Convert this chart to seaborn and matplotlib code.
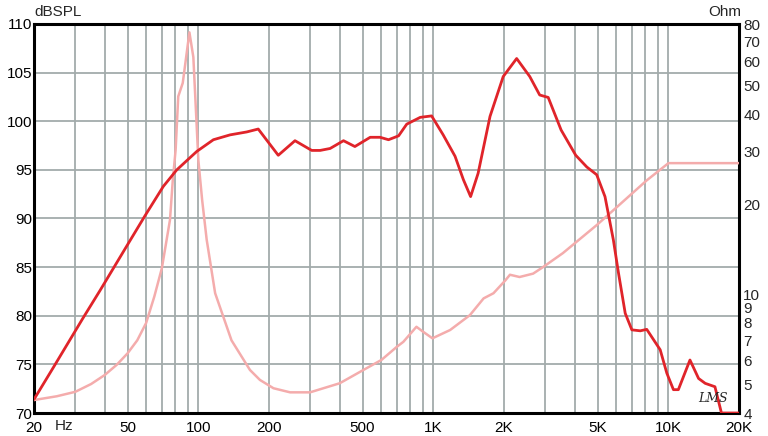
import matplotlib
matplotlib.use('Agg')
import matplotlib.pyplot as plt
from matplotlib.ticker import FixedLocator, NullLocator, FixedFormatter
import seaborn as sns
import pandas as pd

sns.set_style('white')
plt.rcParams['font.family'] = ['Liberation Sans', 'DejaVu Sans']

# SPL response (dB)
spl_freq = [20, 24.2, 32.4, 38.2, 50, 59.4, 71, 81, 98.6, 116, 136.6, 160.8, 180,
            219, 258, 304, 330, 364, 415, 464, 539, 594, 645, 712, 771, 880, 984,
            1102, 1238, 1343, 1442, 1552, 1744, 1985, 2264, 2574, 2837, 3084, 3500,
            4040, 4500, 4960, 5380, 5840, 6140, 6560, 7000, 7600, 8100, 9240, 9860,
            10520, 11040, 12370, 13460, 14360, 15800, 16840, 20000]
spl_db = [71.4, 74.7, 79.8, 82.6, 87.3, 90.3, 93.3, 95.0, 96.9, 98.1, 98.6, 98.9, 99.2,
          96.5, 98.0, 97.0, 97.0, 97.2, 98.0, 97.4, 98.35, 98.35, 98.1, 98.5, 99.7, 100.4, 100.55,
          98.6, 96.4, 94.0, 92.25, 94.65, 100.5, 104.6, 106.45, 104.6, 102.7, 102.45, 99.1,
          96.5, 95.3, 94.5, 92.25, 87.8, 84.4, 80.25, 78.55, 78.45, 78.6, 76.5, 74.1,
          72.4, 72.4, 75.45, 73.55, 73.05, 72.7, 70.0, 70.0]

# impedance (Ohm)
imp_freq = [20, 25, 30, 35, 40, 45, 50, 55, 60, 65, 70, 75.8, 77.9, 80.1, 82.2, 85.9,
            91.7, 95.3, 100.1, 103.9, 108.6, 118, 138.5, 166, 183, 209, 246, 299,
            400, 504, 602, 700, 746, 848, 905, 992, 1180, 1432, 1638, 1804, 2025, 2120,
            2330, 2660, 2930, 3560, 4960, 8100, 10020, 20000]
imp_ohm = [4.42, 4.55, 4.71, 5.0, 5.36, 5.8, 6.33, 7.0, 8.0, 9.8, 12.2, 17.7, 24.0, 30.3, 45.8, 50.8,
           75.0, 62.0, 28.0, 20.6, 15.2, 10.06, 7.0, 5.57, 5.16, 4.84, 4.69, 4.69,
           5.03, 5.57, 6.02, 6.66, 6.92, 7.77, 7.48, 7.11, 7.58, 8.5, 9.67, 10.06, 11.1, 11.6,
           11.4, 11.7, 12.3, 13.7, 17.0, 24.0, 27.4, 27.4]

x_grid = [30, 40, 50, 60, 70, 80, 90, 100, 200, 300, 400, 500, 600, 700, 800, 900,
          1000, 2000, 3000, 4000, 5000, 6000, 7000, 8000, 9000, 10000]
x_ticks = [20, 50, 100, 200, 500, 1000, 2000, 5000, 10000, 20000]
x_labels = ['20', '50', '100', '200', '500', '1K', '2K', '5K', '10K', '20K']
db_ticks = [70, 75, 80, 85, 90, 95, 100, 105, 110]
ohm_ticks = [4, 5, 6, 7, 8, 9, 10, 20, 30, 40, 50, 60, 70, 80]

spl = pd.DataFrame({'freq': spl_freq, 'db': spl_db})
imp = pd.DataFrame({'freq': imp_freq, 'ohm': imp_ohm})

fig = plt.figure(figsize=(7.68, 4.36), dpi=100)
ax = fig.add_axes([34/768, 23/436, 705/768, 389/436])
ax.set_xscale('log')
ax.set_xlim(20, 20000)
ax.set_ylim(70, 110)
grid_c = '#a3abab'
for f in x_grid:
    ax.axvline(f, color=grid_c, lw=1.3, zorder=0)
for d in db_ticks[1:-1]:
    ax.axhline(d, color=grid_c, lw=1.3, zorder=0)
ax.set_yticks(db_ticks)
ax.set_yticklabels([str(d) for d in db_ticks])
for s in ax.spines.values():
    s.set_color('black')
    s.set_linewidth(2.2)

# impedance on a log right axis
ax2 = ax.twinx()
sns.lineplot(data=imp, x='freq', y='ohm', ax=ax2, color='#f4acac', lw=1.8, sort=False)
ax2.set_yscale('log')
ax2.set_ylim(4, 80)
ax2.yaxis.set_major_locator(FixedLocator(ohm_ticks))
ax2.yaxis.set_major_formatter(FixedFormatter([str(o) for o in ohm_ticks]))
ax2.yaxis.set_minor_locator(NullLocator())
ax2.tick_params(axis='y', length=0, labelsize=11, pad=3)
ax2.set_xlabel('')
ax2.set_ylabel('')
for s in ax2.spines.values():
    s.set_visible(False)

# SPL curve on top
ax3 = ax.twinx()
sns.lineplot(data=spl, x='freq', y='db', ax=ax3, color='#e0242a', lw=2.0, sort=False)
ax3.set_ylim(70, 110)
ax3.set_yticks([])
ax3.set_xlabel('')
ax3.set_ylabel('')
for s in ax3.spines.values():
    s.set_visible(False)

# shared x axis: set scale and ticks after seaborn is done
ax.set_xscale('log')
ax.set_xlim(20, 20000)
ax.xaxis.set_major_locator(FixedLocator(x_ticks))
ax.xaxis.set_major_formatter(FixedFormatter(x_labels))
ax.xaxis.set_minor_locator(NullLocator())
ax.tick_params(axis='both', length=0, labelsize=11, colors='black')
ax.tick_params(axis='x', pad=5.5)
ax.tick_params(axis='y', pad=1)
ax.set_xlabel('')
ax.set_ylabel('')

fig.text(34/768, 1 - 12/436, 'dBSPL', fontsize=11, ha='left', va='center')
fig.text(741/768, 1 - 12/436, 'Ohm', fontsize=11, ha='right', va='center')
fig.text(55/768, 1 - 426/436, 'Hz', fontsize=11, ha='left', va='center')
fig.text(713/768, 1 - 398/436, 'LMS', fontsize=9, ha='center', va='center',
         style='italic', family='DejaVu Serif')

fig.savefig('out.png', dpi=100)
